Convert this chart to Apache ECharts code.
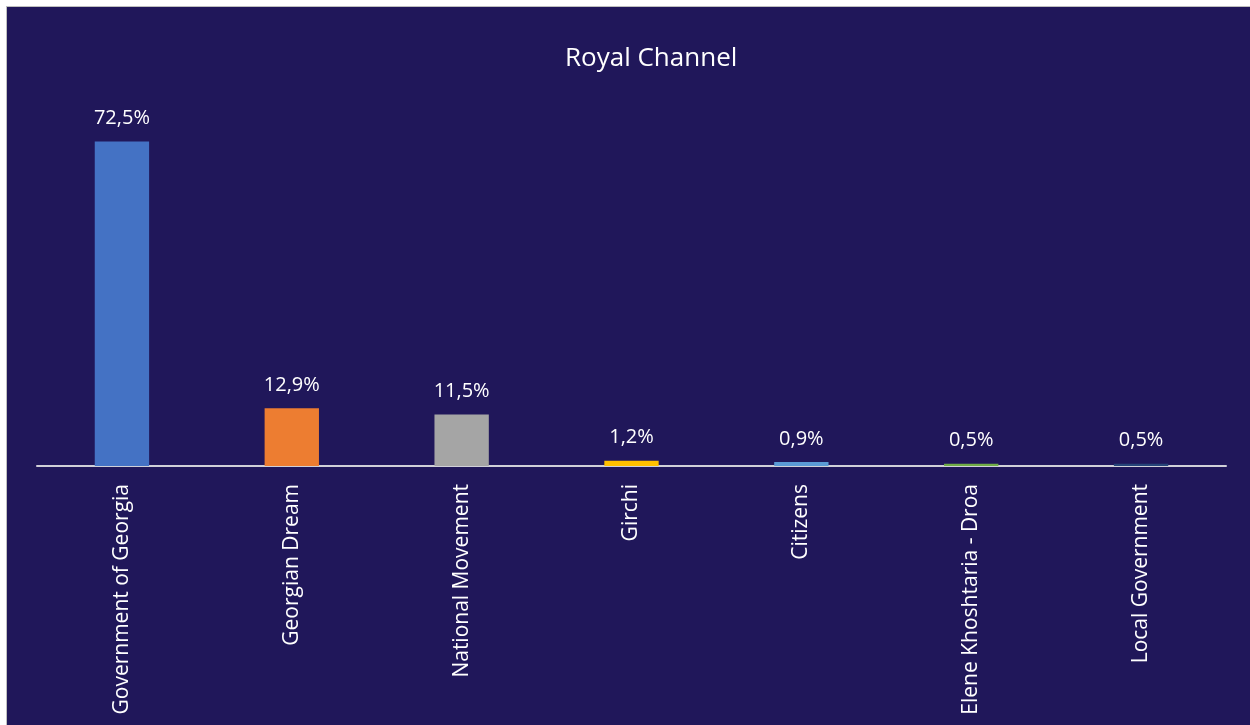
<!DOCTYPE html>
<html><head><meta charset="utf-8">
<script src="https://cdn.jsdelivr.net/npm/echarts@6/dist/echarts.min.js"></script>
<style>
html,body{margin:0;padding:0;background:#fff;width:1250px;height:725px;overflow:hidden}
#wrap{position:absolute;left:6px;top:6px;width:1244px;height:719px;border-top:1px solid #bfbfbf;border-left:1px solid #bfbfbf;background:#20175A}
#chart{width:1244px;height:719px}
</style></head><body>
<div id="wrap"><div id="chart"></div></div>
<script>
var categories = ["Government of Georgia","Georgian Dream","National Movement","Girchi","Citizens","Elene Khoshtaria - Droa","Local Government"];
var values = [72.5, 12.9, 11.5, 1.2, 0.9, 0.5, 0.5];
var colors = ["#4472C4","#ED7D31","#A5A5A5","#FFC000","#5B9BD5","#70AD47","#264478"];
var title = "Royal Channel";
var font = "Open Sans";
var chart = echarts.init(document.getElementById('chart'));
chart.setOption({
  backgroundColor: '#20175A',
  animation: false,
  title: {text: title, left: 553, top: 34, textStyle: {color: '#fff', fontSize: 26, fontWeight: 'normal', fontFamily: font}},
  grid: {left: 30, right: 25, top: 101, height: 358},
  xAxis: {type: 'category', data: categories,
    axisLine: {lineStyle: {color: '#d0d0d8', width: 2}},
    axisTick: {show: false},
    axisLabel: {rotate: 90, color: '#fff', fontSize: 21, fontFamily: font, margin: 18, interval: 0}},
  yAxis: {type: 'value', min: 0, max: 80, show: false, splitLine: {show: false}},
  series: [{type: 'bar', barWidth: '32%',
    data: values.map(function(v, i){ return {value: v, itemStyle: {color: colors[i]}}; }),
    label: {show: true, position: 'top', distance: 13, color: '#fff', fontSize: 20, fontFamily: font,
      formatter: function(p){ return p.value.toFixed(1).replace('.', ',') + '%'; }}
  }]
});
</script></body></html>
